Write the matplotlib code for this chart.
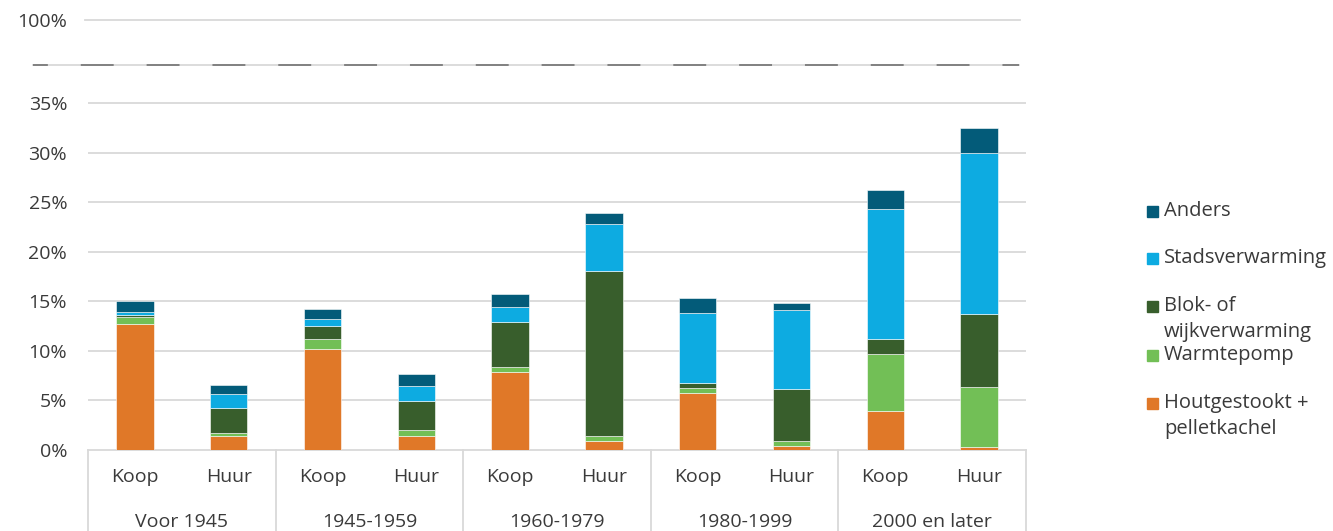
import numpy as np
import matplotlib
matplotlib.use("Agg")
import matplotlib.pyplot as plt
from matplotlib.patches import Rectangle

plt.rcParams['font.family'] = ['Open Sans', 'DejaVu Sans']
plt.rcParams['lines.scale_dashes'] = False

# Data (share of dwellings, %)
periods = ["Voor 1945", "1945-1959", "1960-1979", "1980-1999", "2000 en later"]
tenure = ["Koop", "Huur"]

hout = [12.7, 1.45, 10.2, 1.45, 7.85, 0.9, 5.75, 0.45, 3.95, 0.3]
warmtepomp = [0.7, 0.25, 0.95, 0.55, 0.55, 0.5, 0.55, 0.45, 5.7, 6.1]
blok = [0.25, 2.5, 1.4, 2.95, 4.55, 16.7, 0.45, 5.25, 1.5, 7.35]
stads = [0.25, 1.4, 0.7, 1.5, 1.5, 4.7, 7.05, 8.0, 13.15, 16.2]
anders = [1.1, 0.95, 0.95, 1.25, 1.25, 1.15, 1.5, 0.7, 1.95, 2.55]

series_names = ["Houtgestookt +\npelletkachel", "Warmtepomp",
                "Blok- of\nwijkverwarming", "Stadsverwarming", "Anders"]
series = [hout, warmtepomp, blok, stads, anders]
colors = ["#E07828", "#72BF56", "#385E2C", "#0DABE1", "#035B79"]

yticks = [0, 5, 10, 15, 20, 25, 30, 35]
top_pos = 43.37     # where the "100%" line sits on the broken axis
break_pos = 38.83   # dashed axis break

text_col = "#3a3a3a"
grid_col = "#d9d9d9"

W, H = 1333, 531
fig = plt.figure(figsize=(W / 100, H / 100), dpi=100)
ax = fig.add_axes([88 / W, 81 / H, (1026 - 88) / W, 430 / H])

x = np.arange(len(hout))
bottom = np.zeros(len(x))
for vals, col in zip(series, colors):
    ax.bar(x, vals, width=0.4, bottom=bottom, color=col, edgecolor="white",
           linewidth=0.4, zorder=3)
    bottom += np.array(vals)

ax.set_xlim(-0.5, len(x) - 0.5)
ax.set_ylim(0, top_pos)

# grid
for t in yticks[1:]:
    ax.axhline(t, color=grid_col, lw=1.3, zorder=1)
ax.plot([-0.003, 0.9936], [top_pos, top_pos], color=grid_col, lw=1.3,
        transform=ax.get_yaxis_transform(), clip_on=False, zorder=1)
# axis break
ax.plot([-0.0586, 0.9925], [break_pos, break_pos], color=grid_col, lw=1.3,
        transform=ax.get_yaxis_transform(), clip_on=False, zorder=1)
ax.plot([-0.0586, 0.9925], [break_pos, break_pos], color="#7a7a7a", lw=1.3,
        linestyle=(13.0, (23.7, 23.7)),
        transform=ax.get_yaxis_transform(), clip_on=False, zorder=2)

ax.set_yticks(yticks + [top_pos])
ax.set_yticklabels([f"{t}%" for t in yticks] + ["100%"])
ax.tick_params(axis="y", length=0, pad=15, labelsize=14, labelcolor=text_col)
ax.set_xticks([])

for s in ["top", "right", "left"]:
    ax.spines[s].set_visible(False)
ax.spines["bottom"].set_color(grid_col)
ax.spines["bottom"].set_linewidth(1.3)

# two-level category axis
trans = ax.get_xaxis_transform()
px = 1 / 430
for i in x:
    ax.text(i, -27 * px, tenure[i % 2], transform=trans, ha="center",
            va="center", fontsize=14, color=text_col)
for g, name in enumerate(periods):
    ax.text(2 * g + 0.5, -72 * px, name, transform=trans, ha="center",
            va="center", fontsize=14, color=text_col)
for b in np.arange(-0.5, len(x), 2):
    ax.plot([b, b], [0, -81 * px], color=grid_col, lw=1.3, transform=trans,
            clip_on=False)

# legend (top to bottom, reverse stacking order)
leg_y = [211, 258, 306, 355, 403]
for name, col, yy in zip(series_names[::-1], colors[::-1], leg_y):
    fig.patches.append(Rectangle((1147 / W, 1 - (yy + 6) / H), 11 / W, 11 / H,
                                 transform=fig.transFigure, color=col))
    for k, line in enumerate(name.split("\n")):
        fig.text(1164 / W, 1 - (yy + 26 * k) / H, line, ha="left",
                 va="center", fontsize=14.5, color=text_col)

fig.savefig("out.png", dpi=100)
